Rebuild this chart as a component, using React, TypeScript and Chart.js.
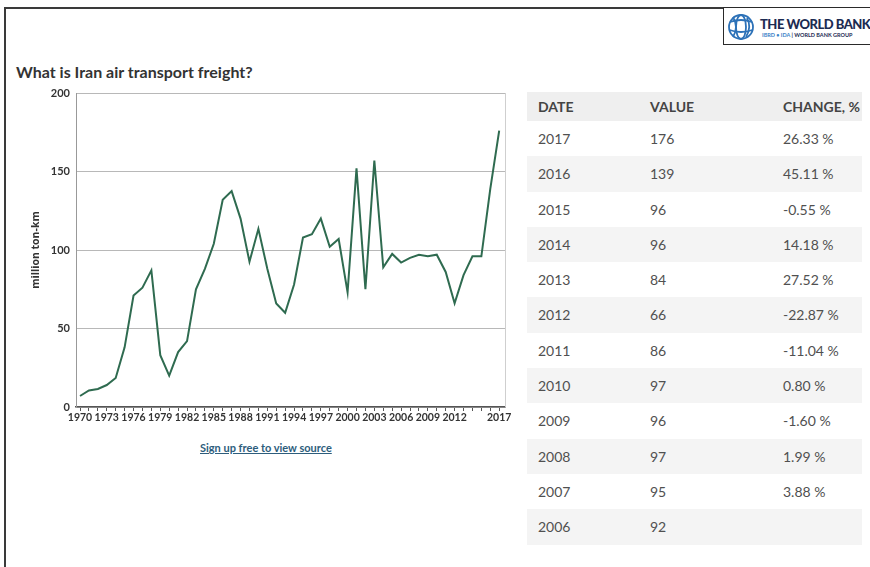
import React, { useEffect, useRef } from "react";
import { Chart, registerables } from "chart.js";

Chart.register(...registerables);

const years = [
  1970, 1971, 1972, 1973, 1974, 1975, 1976, 1977, 1978, 1979,
  1980, 1981, 1982, 1983, 1984, 1985, 1986, 1987, 1988, 1989,
  1990, 1991, 1992, 1993, 1994, 1995, 1996, 1997, 1998, 1999,
  2000, 2001, 2002, 2003, 2004, 2005, 2006, 2007, 2008, 2009,
  2010, 2011, 2012, 2013, 2014, 2015, 2016, 2017,
];
const freight = [
  7, 10.5, 11.5, 14, 18.5, 38, 71, 76, 87, 33,
  20, 35, 42, 75, 88, 104, 132, 137.5, 120, 92.5,
  113.5, 88, 66, 60, 78, 108, 110, 120, 102, 107,
  73, 152, 75, 157, 89, 97.5, 92, 95, 97, 96,
  97, 86, 66, 84, 96, 96, 139, 176,
];
const labelYears = [1970, 1973, 1976, 1979, 1982, 1985, 1988, 1991, 1994, 1997, 2000, 2003, 2006, 2009, 2012, 2017];

const tableDates = ["2017", "2016", "2015", "2014", "2013", "2012", "2011", "2010", "2009", "2008", "2007", "2006"];
const tableValues = ["176", "139", "96", "96", "84", "66", "86", "97", "96", "97", "95", "92"];
const tableChanges = ["26.33 %", "45.11 %", "-0.55 %", "14.18 %", "27.52 %", "-22.87 %", "-11.04 %", "0.80 %", "-1.60 %", "1.99 %", "3.88 %", ""];

const FONT = "Lato, 'Open Sans', sans-serif";
const AXIS_FONT = "'Open Sans', Lato, sans-serif";

const rightEdge = {
  id: "rightEdge",
  beforeDatasetsDraw(chart: any) {
    const { ctx, chartArea } = chart;
    ctx.save();
    ctx.strokeStyle = "#cfcfcf";
    ctx.lineWidth = 1;
    ctx.beginPath();
    ctx.moveTo(Math.round(chartArea.right) + 0.5, chartArea.top);
    ctx.lineTo(Math.round(chartArea.right) + 0.5, chartArea.bottom);
    ctx.stroke();
    ctx.restore();
  },
};

function FreightChart() {
  const ref = useRef<HTMLCanvasElement | null>(null);
  useEffect(() => {
    if (!ref.current) return;
    const points = years.map((y, i) => ({ x: y, y: freight[i] }));
    const chart = new Chart(ref.current, {
      type: "line",
      data: {
        datasets: [
          {
            data: points,
            borderColor: "#2f6b50",
            borderWidth: 2,
            pointRadius: 0,
            tension: 0,
            fill: false,
          },
        ],
      },
      plugins: [rightEdge],
      options: {
        animation: false,
        responsive: false,
        maintainAspectRatio: false,
        layout: { padding: { top: 13, right: 15, left: 0, bottom: 0 } },
        plugins: { legend: { display: false }, tooltip: { enabled: false } },
        scales: {
          x: {
            type: "linear",
            min: 1969.55,
            max: 2017.65,
            afterBuildTicks: (s: any) => {
              s.ticks = years.map((v) => ({ value: v }));
            },
            afterFit: (s: any) => {
              s.height = 23;
            },
            grid: { drawOnChartArea: false, drawTicks: true, tickLength: 4, color: "#555", lineWidth: 1 },
            border: { color: "#555", width: 1.5 },
            ticks: {
              autoSkip: false,
              maxRotation: 0,
              padding: 0,
              color: "#333",
              font: { family: FONT, size: 10.5, weight: "bold" },
              callback: (v: any) => (labelYears.includes(Number(v)) ? String(v) : ""),
            },
          },
          y: {
            min: 0,
            max: 200,
            afterFit: (s: any) => {
              s.width = 66;
            },
            grid: { color: "#b8b8b8", drawTicks: false, lineWidth: 1 },
            border: { color: "#999", width: 1 },
            ticks: {
              stepSize: 50,
              padding: 6,
              color: "#333",
              font: { family: FONT, size: 11, weight: "bold" },
            },
            title: {
              display: true,
              text: "million ton-km",
              color: "#333",
              padding: { top: 20, bottom: 0 },
              font: { family: AXIS_FONT, size: 10.5, weight: "bold" },
            },
          },
        },
      } as any,
    });
    return () => chart.destroy();
  }, []);
  return (
    <canvas
      ref={ref}
      width={510}
      height={350}
      style={{ position: "absolute", left: 10, top: 80, width: 510, height: 350 }}
    />
  );
}

function Globe() {
  return (
    <svg width="28" height="28" viewBox="0 0 28 28" style={{ position: "absolute", left: 727, top: 13 }}>
      <g fill="none" stroke="#2d72b8" strokeWidth="1.8">
        <circle cx="14" cy="14" r="12" />
        <ellipse cx="14" cy="14" rx="5" ry="12" />
        <path d="M3 9 Q14 5 25 9" />
        <path d="M2.5 17 Q14 21 25.5 17" />
        <path d="M6 4 Q12 14 6 24" />
        <path d="M20 5 Q25 14 19 24" />
      </g>
    </svg>
  );
}

export default function App() {
  const rowH = 35.3;
  return (
    <div
      style={{
        position: "absolute",
        left: 0,
        top: 0,
        width: 870,
        height: 567,
        overflow: "hidden",
        background: "#fff",
        fontFamily: FONT,
      }}
    >
      {/* outer frame */}
      <div style={{ position: "absolute", left: 4, top: 7, width: 880, height: 2, background: "#3a3a3a" }} />
      <div style={{ position: "absolute", left: 4, top: 7, width: 2, height: 580, background: "#3a3a3a" }} />

      {/* logo */}
      <div
        style={{
          position: "absolute",
          left: 723,
          top: 7,
          width: 160,
          height: 36,
          border: "1.5px solid #2a2a2a",
          background: "#fff",
        }}
      />
      <Globe />
      <div
        style={{
          position: "absolute",
          left: 760,
          top: 17,
          fontSize: 13,
          fontWeight: 900,
          color: "#1c2b52",
          whiteSpace: "nowrap",
          letterSpacing: -0.5,
          lineHeight: "15px",
        }}
      >
        THE WORLD BANK
      </div>
      <div
        style={{
          position: "absolute",
          left: 762,
          top: 32,
          fontSize: 5.5,
          fontWeight: 700,
          whiteSpace: "nowrap",
          lineHeight: "7px",
        }}
      >
        <span style={{ color: "#3b82c8" }}>IBRD • IDA</span>
        <span style={{ color: "#1c2b52" }}> | WORLD BANK GROUP</span>
      </div>

      {/* title */}
      <div
        style={{
          position: "absolute",
          left: 16,
          top: 61,
          fontSize: 16,
          fontWeight: 700,
          color: "#333",
          lineHeight: "22px",
          whiteSpace: "nowrap",
        }}
      >
        What is Iran air transport freight?
      </div>

      <FreightChart />

      {/* source link */}
      <div
        style={{
          position: "absolute",
          left: 200,
          top: 441,
          width: 129,
          textAlign: "center",
          fontSize: 11,
          fontWeight: 700,
          color: "#2d5d7c",
          textDecoration: "underline",
          whiteSpace: "nowrap",
          lineHeight: "14px",
        }}
      >
        Sign up free to view source
      </div>

      {/* table */}
      <div style={{ position: "absolute", left: 527, top: 92, width: 335, fontSize: 14 }}>
        <div
          style={{
            position: "relative",
            height: 29,
            background: "#efefef",
            fontWeight: 700,
            color: "#444",
            lineHeight: "29px",
          }}
        >
          <span style={{ position: "absolute", left: 11 }}>DATE</span>
          <span style={{ position: "absolute", left: 123 }}>VALUE</span>
          <span style={{ position: "absolute", left: 256 }}>CHANGE, %</span>
        </div>
        {tableDates.map((d, i) => (
          <div
            key={d}
            style={{
              position: "relative",
              height: rowH,
              background: i % 2 === 1 ? "#f4f4f4" : "#fff",
              color: "#505050",
              lineHeight: rowH + "px",
            }}
          >
            <span style={{ position: "absolute", left: 11 }}>{d}</span>
            <span style={{ position: "absolute", left: 123 }}>{tableValues[i]}</span>
            <span style={{ position: "absolute", left: 256 }}>{tableChanges[i]}</span>
          </div>
        ))}
      </div>
    </div>
  );
}
